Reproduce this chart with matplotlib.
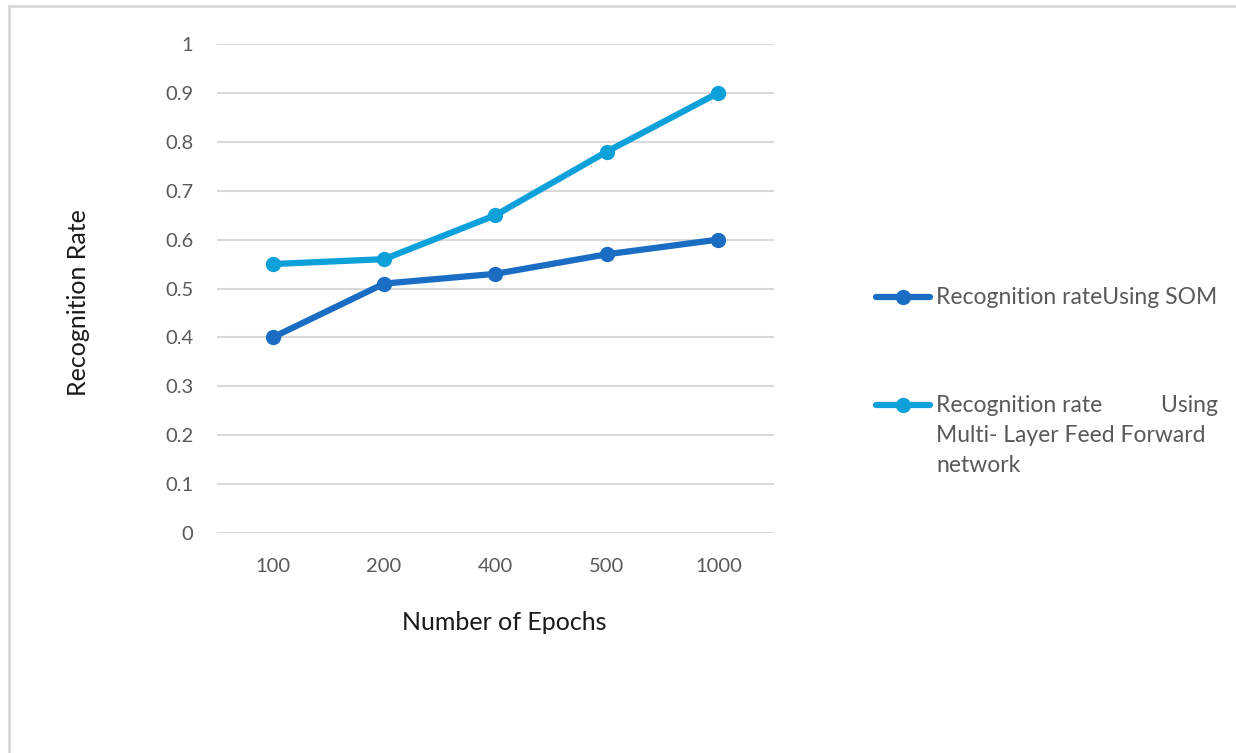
import matplotlib
matplotlib.use("Agg")
import matplotlib.pyplot as plt
from matplotlib.lines import Line2D

# Data
epochs = ["100", "200", "400", "500", "1000"]
som_rate = [0.40, 0.51, 0.53, 0.57, 0.60]
mlff_rate = [0.55, 0.56, 0.65, 0.78, 0.90]
y_ticks = [0, 0.1, 0.2, 0.3, 0.4, 0.5, 0.6, 0.7, 0.8, 0.9, 1]
y_tick_labels = ["0", "0.1", "0.2", "0.3", "0.4", "0.5", "0.6", "0.7", "0.8", "0.9", "1"]
som_label = "Recognition rateUsing SOM"
mlff_label_lines = ["Recognition rate          Using",
                    "Multi- Layer Feed Forward",
                    "network"]

SOM_COLOR = "#1A6DC3"
MLFF_COLOR = "#0EA0D8"
GRID = "#D9D9D9"
TEXT_GRAY = "#595959"

plt.rcParams["font.family"] = ["Lato", "DejaVu Sans"]

W, H, DPI = 1236, 753, 100
fig = plt.figure(figsize=(W / DPI, H / DPI), dpi=DPI)
ax = fig.add_axes([217 / W, 1 - 533 / H, (774 - 217) / W, (533 - 44) / H])

x = list(range(len(epochs)))
line_kw = dict(linewidth=4.5, marker="o", markersize=10, solid_capstyle="round",
               solid_joinstyle="round", clip_on=False)
ax.plot(x, som_rate, color=SOM_COLOR, zorder=3, **line_kw)
ax.plot(x, mlff_rate, color=MLFF_COLOR, zorder=3, **line_kw)

ax.set_xlim(-0.5, len(epochs) - 0.5)
ax.set_ylim(0, 1)
ax.set_yticks(y_ticks)
ax.set_yticklabels(y_tick_labels)
ax.set_xticks(x)
ax.set_xticklabels(epochs)
ax.tick_params(axis="both", length=0, labelsize=14.5, labelcolor=TEXT_GRAY)
ax.tick_params(axis="y", pad=17)
ax.tick_params(axis="x", pad=18)
ax.grid(axis="y", color=GRID, linewidth=1.5)
ax.set_axisbelow(True)
for s in ax.spines.values():
    s.set_visible(False)

fig.text(504 / W, 1 - 623 / H, "Number of Epochs", ha="center", va="center",
         fontsize=18, color="#1a1a1a")
fig.text(78 / W, 1 - 303 / H, "Recognition Rate", ha="center", va="center",
         rotation=90, fontsize=18, color="#1a1a1a")

# Legend, drawn in pixel coordinates of the figure
def legend_entry(y_px, color, lines):
    fig.add_artist(Line2D([876 / W, 930 / W], [1 - y_px / H] * 2, color=color,
                          linewidth=4.5, solid_capstyle="round",
                          transform=fig.transFigure))
    fig.add_artist(Line2D([903 / W], [1 - y_px / H], color=color, marker="o",
                          markersize=10, transform=fig.transFigure))
    for i, t in enumerate(lines):
        fig.text(936 / W, 1 - (y_px + 30 * i) / H, t, ha="left", va="center",
                 fontsize=16.5, color=TEXT_GRAY)

legend_entry(297, SOM_COLOR, [som_label])
legend_entry(405, MLFF_COLOR, mlff_label_lines)

# Light frame on the left and top edges
fig.add_artist(Line2D([9 / W, 9 / W], [0, 1 - 5.5 / H], color=GRID, linewidth=2,
                      transform=fig.transFigure))
fig.add_artist(Line2D([9 / W, 1], [1 - 5.5 / H] * 2, color=GRID, linewidth=2,
                      transform=fig.transFigure))

fig.savefig("out.png", dpi=DPI, facecolor="white")
